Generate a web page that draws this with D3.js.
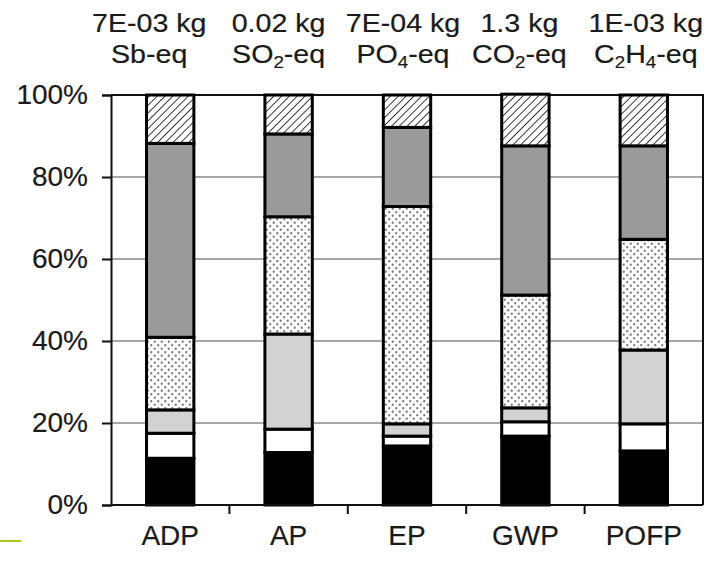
<!DOCTYPE html>
<html>
<head>
<meta charset="utf-8">
<script src="https://cdn.jsdelivr.net/npm/d3@7"></script>
<style>
  body { margin: 0; background: #fff; }
  svg { display: block; font-family: "Liberation Sans", Arial, sans-serif; }
  svg text { stroke: #1a1a1a; stroke-width: 0.2px; }
</style>
</head>
<body>
<div id="chart"></div>
<script>
// categories and stacked shares (%), bottom segment first
const categories = ["ADP", "AP", "EP", "GWP", "POFP"];
const layers = ["black", "white", "lightgray", "dotted", "darkgray", "hatched"];
const blackVals = [11.4, 12.8, 14.4, 16.8, 13.2];
const whiteVals = [6.1, 5.7, 2.4, 3.5, 6.6];
const lightVals = [5.7, 23.2, 3.0, 3.4, 18.0];
const dottedVals = [17.7, 28.6, 53.0, 27.5, 27.0];
const darkVals = [47.3, 20.2, 19.3, 36.4, 22.8];
const hatchedVals = [11.8, 9.5, 7.9, 12.6, 12.4];
const totalLine1 = ["7E-03 kg", "0.02 kg", "7E-04 kg", "1.3 kg", "1E-03 kg"];
// unit text; digits are drawn as subscripts
const unitLine2 = [["Sb-eq"], ["SO", "2", "-eq"], ["PO", "4", "-eq"], ["CO", "2", "-eq"], ["C", "2", "H", "4", "-eq"]];
const yTicks = [0, 20, 40, 60, 80, 100];

const W = 716, H = 561;
const margin = { top: 95, right: 13, bottom: 56, left: 111 };
const width = W - margin.left - margin.right;
const height = H - margin.top - margin.bottom;

const svg = d3.select("#chart").append("svg")
  .attr("width", W).attr("height", H);

const defs = svg.append("defs");
const hatch = defs.append("pattern")
  .attr("id", "hatch").attr("patternUnits", "userSpaceOnUse")
  .attr("width", 5.5).attr("height", 5.5)
  .attr("patternTransform", "rotate(45)");
hatch.append("rect").attr("width", 5.5).attr("height", 5.5).attr("fill", "#fff");
hatch.append("line").attr("x1", 0).attr("y1", 0).attr("x2", 0).attr("y2", 5.5)
  .attr("stroke", "#1a1a1a").attr("stroke-width", 1.7);

const dots = defs.append("pattern")
  .attr("id", "dots").attr("patternUnits", "userSpaceOnUse")
  .attr("width", 7).attr("height", 7);
dots.append("rect").attr("width", 7).attr("height", 7).attr("fill", "#fff");
dots.append("circle").attr("cx", 1.75).attr("cy", 1.75).attr("r", 1.15).attr("fill", "#7a7a7a");
dots.append("circle").attr("cx", 5.25).attr("cy", 5.25).attr("r", 1.15).attr("fill", "#7a7a7a");

const fills = {
  black: "#000",
  white: "#fff",
  lightgray: "#d2d2d2",
  dotted: "url(#dots)",
  darkgray: "#9a9a9a",
  hatched: "url(#hatch)"
};

const rows = categories.map((c, i) => ({
  cat: c,
  black: blackVals[i], white: whiteVals[i], lightgray: lightVals[i],
  dotted: dottedVals[i], darkgray: darkVals[i], hatched: hatchedVals[i]
}));
const stacked = d3.stack().keys(layers)(rows);

const g = svg.append("g").attr("transform", `translate(${margin.left},${margin.top})`);

const x = d3.scaleBand().domain(categories).range([0, width]).paddingInner(0.6).paddingOuter(0.3);
const xTick = d3.scaleBand().domain(categories).range([0, width]);
const y = d3.scaleLinear().domain([0, 100]).range([height, 0]);

// gridlines
g.append("g").selectAll("line").data(yTicks.filter(t => t > 0 && t < 100)).join("line")
  .attr("x1", 0).attr("x2", width)
  .attr("y1", d => y(d)).attr("y2", d => y(d))
  .attr("stroke", "#8a8a8a").attr("stroke-width", 1.5);

// plot frame (top and right)
g.append("path")
  .attr("d", `M0,0H${width}V${height}`)
  .attr("fill", "none").attr("stroke", "#111").attr("stroke-width", 2);

// bars
g.append("g").selectAll("g").data(stacked).join("g")
  .attr("fill", d => fills[d.key])
  .selectAll("rect").data(d => d).join("rect")
  .attr("x", d => x(d.data.cat))
  .attr("y", d => y(d[1]))
  .attr("width", x.bandwidth())
  .attr("height", d => y(d[0]) - y(d[1]))
  .attr("stroke", "#000").attr("stroke-width", 3);

// y axis
const yAxis = g.append("g")
  .call(d3.axisLeft(y).tickValues(yTicks).tickFormat(d => d + "%").tickSize(9).tickPadding(14));
yAxis.select(".domain").attr("stroke", "#111").attr("stroke-width", 2);
yAxis.selectAll(".tick line").attr("stroke", "#111").attr("stroke-width", 2);
yAxis.selectAll("text").attr("font-size", 28).attr("fill", "#1a1a1a")
  .attr("font-family", "Liberation Sans, Arial, sans-serif");

// x axis: ticks between categories
const xAxisG = g.append("g").attr("transform", `translate(0,${height})`);
xAxisG.append("line").attr("x1", 0).attr("x2", width)
  .attr("stroke", "#111").attr("stroke-width", 2);
xAxisG.selectAll("line.tk").data(categories.slice(1)).join("line")
  .attr("class", "tk")
  .attr("x1", d => xTick(d)).attr("x2", d => xTick(d))
  .attr("y1", 0).attr("y2", 9)
  .attr("stroke", "#111").attr("stroke-width", 2);
xAxisG.selectAll("text").data(categories).join("text")
  .attr("x", d => x(d) + x.bandwidth() / 2)
  .attr("y", 40)
  .attr("text-anchor", "middle")
  .attr("font-size", 28).attr("fill", "#1a1a1a")
  .text(d => d);

// header labels above bars
const headShift = [-21, -10, -4, -6, 2];
const head = svg.append("g");
categories.forEach((c, i) => {
  const cx = margin.left + x(c) + x.bandwidth() / 2 + headShift[i];
  head.append("text")
    .attr("transform", `translate(${cx},32) scale(1.1,1)`)
    .attr("text-anchor", "middle")
    .attr("font-size", 26).attr("fill", "#1a1a1a")
    .text(totalLine1[i]);
  const t = head.append("text")
    .attr("transform", `translate(${cx},63) scale(1.1,1)`)
    .attr("text-anchor", "middle")
    .attr("font-size", 26).attr("fill", "#1a1a1a");
  let low = false;
  unitLine2[i].forEach(part => {
    const isSub = /^\d$/.test(part);
    const dy = isSub ? (low ? 0 : 5) : (low ? -5 : 0);
    low = isSub;
    t.append("tspan")
      .attr("font-size", isSub ? 17 : 26)
      .attr("dy", dy)
      .text(part);
  });
});

// small green mark at bottom-left
svg.append("line")
  .attr("x1", 0).attr("x2", 21).attr("y1", 541).attr("y2", 541)
  .attr("stroke", "#a4c81e").attr("stroke-width", 2);
</script>
</body>
</html>
